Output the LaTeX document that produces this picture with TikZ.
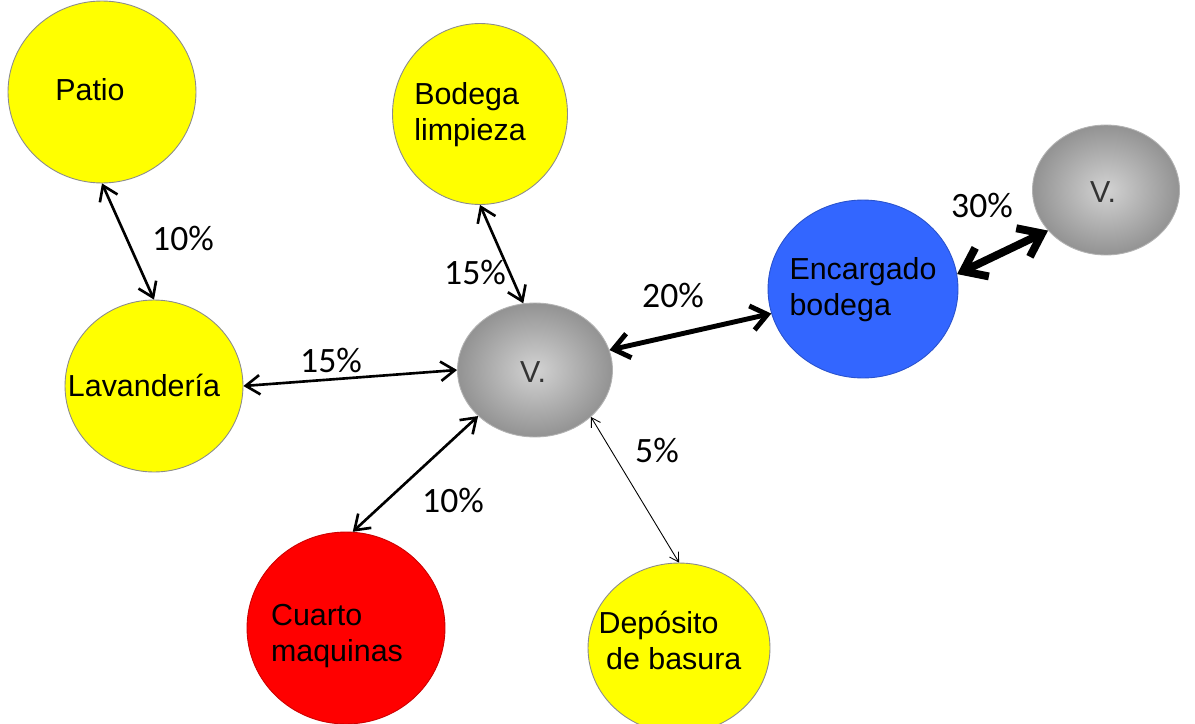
\documentclass[tikz,border=0pt]{standalone}
\usepackage{fontspec}
\setmainfont{Liberation Sans}
\newfontfamily\pctfont{Carlito}
\usepackage{tikz}
\usetikzlibrary{positioning,shapes.geometric,arrows.meta}

\definecolor{salaamarilla}{RGB}{255,255,0}
\definecolor{encazul}{RGB}{51,102,255}
\definecolor{cuartorojo}{RGB}{255,0,0}

\begin{document}
\begin{tikzpicture}[x=0.02cm, y=-0.02cm,
    sala/.style={ellipse, inner sep=0pt, draw=black!45, line width=0.5pt},
    vsala/.style={sala, draw=black!30, inner color=gray!35, outer color=gray!85},
    nombre/.style={align=left, inner sep=0pt, font=\fontsize{17.3}{20.5}\selectfont},
    pct/.style={inner sep=0pt, font=\pctfont\fontsize{20.3}{22}\selectfont},
    flecha/.style={line width=1.5pt, {Straight Barb[length=8pt,width=11pt]}-{Straight Barb[length=8pt,width=11pt]}},
    fina/.style={line width=0.5pt, {Straight Barb[length=5pt,width=6pt]}-{Straight Barb[length=5pt,width=6pt]}},
    gruesa/.style={line width=2.8pt, {Straight Barb[length=9pt,width=14pt]}-{Straight Barb[length=9pt,width=14pt]}},
    maxima/.style={line width=4.5pt, {Straight Barb[length=12pt,width=18pt]}-{Straight Barb[length=12pt,width=18pt]}}]

\clip (0,0) rectangle (1195,723);
\fill[white] (0,0) rectangle (1195,723);

% Salas
\node[sala, fill=salaamarilla, minimum width=3.76cm, minimum height=3.64cm] (patio) at (102,92) {};
\node[sala, fill=salaamarilla, minimum width=3.5cm, minimum height=3.62cm] (limpieza) at (480,114) {};
\node[sala, fill=salaamarilla, minimum width=3.56cm, minimum height=3.44cm] (lavanderia) at (154,386) {};
\node[vsala, minimum width=3.1cm, minimum height=2.68cm] (vcen) at (535,370) {};
\node[sala, fill=encazul, draw=encazul!80!black, minimum width=3.8cm, minimum height=3.56cm] (encargado) at (863,289) {};
\node[vsala, minimum width=2.94cm, minimum height=2.6cm] (vder) at (1106,190) {};
\node[sala, fill=cuartorojo, draw=cuartorojo!80!black, minimum width=3.96cm, minimum height=3.84cm] (cuarto) at (346,628) {};
\node[sala, fill=salaamarilla, minimum width=3.64cm, minimum height=3.4cm] (deposito) at (679,648) {};

% Nombres
\node[nombre] (tpatio) at (90,90) {Patio};
\node[nombre] (tlimpieza) at (470,115) {Bodega\\limpieza};
\node[nombre] (tlavanderia) at (144,385) {Lavandería};
\node[nombre, text=black!80] (tvcen) at (533,372) {V.};
\node[nombre] (tencargado) at (863,290) {Encargado\\bodega};
\node[nombre, text=black!80] (tvder) at (1103,192) {V.};
\node[nombre] (tcuarto) at (337,636) {Cuarto\\maquinas};
\node[nombre] (tdeposito) at (670,640) {Depósito\\\hspace*{0.25em}de basura};

% Flujos
\draw[flecha] (patio.south) -- (lavanderia.north);
\draw[flecha] (limpieza.south) -- (vcen.100);
\draw[flecha] (lavanderia.east) -- (vcen.west);
\draw[gruesa] (vcen.15) -- (encargado.195);
\draw[maxima] (encargado.9) -- (vder.215);
\draw[flecha] (vcen.219) -- (cuarto.86);
\draw[fina] (vcen.-40) -- (deposito.north);

% Porcentajes
\node[pct] (p10a) at (183,238) {10\%};
\node[pct] (p15a) at (475,272) {15\%};
\node[pct] (p15b) at (331,360) {15\%};
\node[pct] (p20) at (673,295) {20\%};
\node[pct] (p30) at (982,205) {30\%};
\node[pct] (p10b) at (453,500) {10\%};
\node[pct] (p5) at (657,450) {5\%};

\end{tikzpicture}
\end{document}
